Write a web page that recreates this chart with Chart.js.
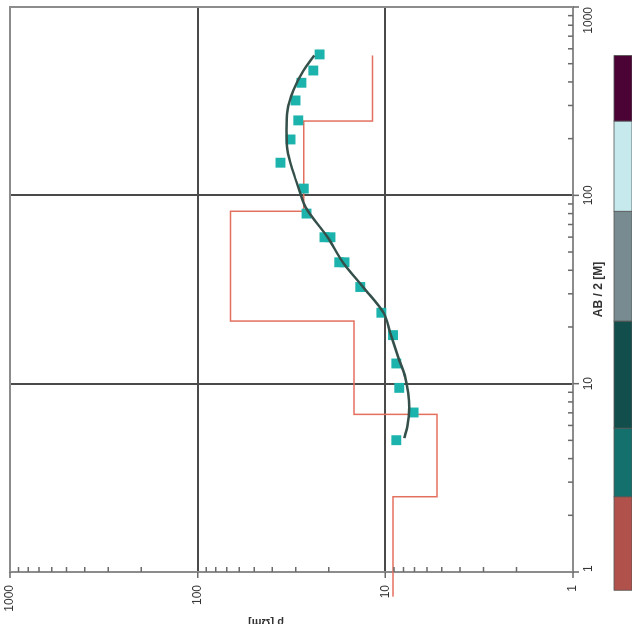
<!DOCTYPE html>
<html>
<head>
<meta charset="utf-8">
<script src="https://cdn.jsdelivr.net/npm/chart.js"></script>
<style>
body { margin: 0; background: #fff; overflow: hidden; }
#wrap { position: absolute; left: 0; top: 0; width: 624px; height: 632px; transform-origin: 0 0; transform: translate(0, 624px) rotate(-90deg); }
</style>
</head>
<body>
<div id="wrap"><canvas id="myChart" width="624" height="632"></canvas></div>
<script>
// field data: AB/2 [m] and apparent resistivity
let abData = [5.01, 7.03, 9.5, 12.8, 18.1, 23.8, 32.6, 44.1, 44.1, 59.9, 59.9, 80, 108.6, 149, 198, 250, 319, 396, 460, 560]
let rhoData = [8.74, 7.07, 8.43, 8.74, 9.1, 10.5, 13.6, 16.5, 17.6, 19.6, 21.1, 26.3, 27.2, 36.2, 32.0, 29.1, 30.1, 28.0, 24.2, 22.4]

// fitted curve
let abCurve = [5.14, 5.88, 7.5, 8.9, 10.8, 13.8, 18.5, 23.7, 32.5, 43.6, 59.9, 86.4, 106, 136, 173, 221, 282, 361, 460, 553]
let rhoCurve = [7.93, 7.64, 7.45, 7.55, 7.83, 8.53, 9.4, 10.2, 13.1, 16.7, 20.3, 26.6, 28.7, 31.2, 33.2, 33.6, 33.2, 30.9, 27.3, 23.9]

// layered model
let layerTops = [0.74, 2.51, 6.87, 21.5, 82.3, 248, 553]
let layerRho = [9.1, 5.31, 14.7, 66.8, 27.2, 11.7]

// colour column
let barEdges = [0.8, 2.51, 5.81, 21.5, 82.3, 248, 553]
let barColors = ['#b0524b', '#13706d', '#124f4c', '#778b90', '#c6e9ee', '#4b0335']

let tickLabels = [1, 10, 100, 1000]
let tickValues = []
tickLabels.slice(0, 3).forEach(d => {
  for (let k = 1; k < 10; k++) tickValues.push(k * d)
})
tickValues.push(1000)

let points = abData.map((v, i) => ({ x: v, y: rhoData[i] }))
let curve = abCurve.map((v, i) => ({ x: v, y: rhoCurve[i] }))
let model = []
layerRho.forEach((r, i) => {
  model.push({ x: layerTops[i], y: r })
  model.push({ x: layerTops[i + 1], y: r })
})

let txt = '#333'
let fnt = { family: '"Liberation Sans", Arial, sans-serif', size: 12 }

let extras = {
  id: 'extras',
  afterDraw(chart) {
    let c = chart.ctx, a = chart.chartArea, xs = chart.scales.x, ys = chart.scales.y
    c.save()
    // top and right frame
    c.strokeStyle = '#8c8c8c'
    c.lineWidth = 2
    c.beginPath()
    c.moveTo(a.left, a.top)
    c.lineTo(a.right, a.top)
    c.lineTo(a.right, a.bottom)
    c.stroke()

    // tick marks: majors outside, minors inside
    c.strokeStyle = '#6a6a6a'
    c.lineWidth = 1.5
    tickValues.forEach(v => {
      let px = xs.getPixelForValue(v), py = ys.getPixelForValue(v)
      let major = tickLabels.includes(v)
      c.beginPath()
      if (major) {
        c.moveTo(px, a.bottom); c.lineTo(px, a.bottom + 6)
        c.moveTo(a.left, py); c.lineTo(a.left - 6, py)
      } else {
        c.moveTo(px, a.bottom); c.lineTo(px, a.bottom - 5)
        c.moveTo(a.left, py); c.lineTo(a.left + 5, py)
      }
      c.stroke()
    })

    // axis titles
    c.fillStyle = txt
    c.font = 'bold 12px "Liberation Sans", Arial, sans-serif'
    c.textAlign = 'center'
    c.textBaseline = 'middle'
    c.fillText('AB / 2 [M]', (a.left + a.right) / 2, 599)

    c.save()
    c.translate(5, 266)
    c.rotate(-Math.PI / 2)
    c.font = 'bold 11px "Liberation Sans", Arial, sans-serif'
    c.textBaseline = 'alphabetic'
    c.fillText('ρ [Ωm]', 0, 0)
    c.restore()

    // colour column
    c.strokeStyle = '#555'
    c.lineWidth = 0.8
    barColors.forEach((col, i) => {
      let x1 = xs.getPixelForValue(barEdges[i]), x2 = xs.getPixelForValue(barEdges[i + 1])
      c.fillStyle = col
      c.fillRect(x1, 614, x2 - x1, 18)
      c.strokeRect(x1, 614, x2 - x1, 18)
    })
    c.restore()
  }
}

let gridColor = ctx => (ctx.tick && (ctx.tick.value === 10 || ctx.tick.value === 100)) ? '#4a4a4a' : 'rgba(0,0,0,0)'

const ctx = document.getElementById('myChart')

new Chart(ctx, {
  type: 'scatter',
  data: {
    datasets: [
      {
        data: curve,
        showLine: true,
        borderColor: '#35504a',
        borderWidth: 2.5,
        pointRadius: 0,
        tension: 0.4,
        cubicInterpolationMode: 'monotone',
        order: 0
      },
      {
        data: points,
        showLine: false,
        pointStyle: 'rect',
        pointRadius: 7,
        backgroundColor: '#1cb3ad',
        borderWidth: 0,
        order: 1
      },
      {
        data: model,
        showLine: true,
        borderColor: '#e3705f',
        borderWidth: 1.5,
        pointRadius: 0,
        clip: false,
        order: 2
      }
    ]
  },
  options: {
    responsive: false,
    animation: false,
    layout: { padding: { top: 10, right: 6.5, left: 0, bottom: 0 } },
    plugins: { legend: { display: false }, tooltip: { enabled: false } },
    scales: {
      x: {
        type: 'logarithmic',
        position: 'bottom',
        min: 1,
        max: 1000,
        afterBuildTicks: s => { s.ticks = tickValues.map(v => ({ value: v })) },
        afterFit: s => { s.height = 59; s.paddingLeft = 0; s.paddingRight = 0 },
        grid: { color: gridColor, lineWidth: 2, drawTicks: false },
        border: { color: '#8c8c8c', width: 2 },
        ticks: {
          autoSkip: false,
          maxRotation: 0,
          minRotation: 0,
          align: 'inner',
          padding: 8,
          color: txt,
          font: fnt,
          callback: v => tickLabels.includes(v) ? String(v) : ''
        }
      },
      y: {
        type: 'logarithmic',
        position: 'left',
        min: 1,
        max: 1000,
        afterBuildTicks: s => { s.ticks = tickValues.map(v => ({ value: v })) },
        afterFit: s => { s.width = 52; s.paddingTop = 0; s.paddingBottom = 0 },
        grid: { color: gridColor, lineWidth: 2, drawTicks: false },
        border: { color: '#8c8c8c', width: 2 },
        ticks: {
          autoSkip: false,
          padding: 13,
          color: txt,
          font: fnt,
          callback: v => tickLabels.includes(v) ? String(v) : ''
        }
      }
    }
  },
  plugins: [extras]
})
</script>
</body>
</html>
